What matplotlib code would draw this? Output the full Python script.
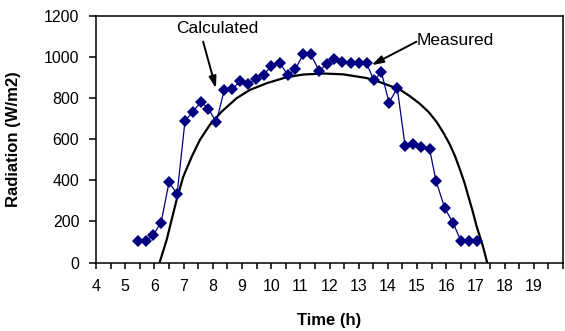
import numpy as np
import matplotlib
matplotlib.use('Agg')
from matplotlib import pyplot as plt

plt.rcParams['font.family'] = ['Liberation Sans', 'DejaVu Sans']

# measured radiation
meas_time = [5.43, 5.70, 5.96, 6.23, 6.50, 6.78, 7.05, 7.32, 7.59, 7.85,
             8.12, 8.39, 8.67, 8.94, 9.21, 9.47, 9.74, 10.01, 10.29, 10.57,
             10.83, 11.10, 11.35, 11.65, 11.91, 12.15, 12.43, 12.72, 13.00, 13.27,
             13.52, 13.78, 14.04, 14.32, 14.59, 14.87, 15.15, 15.43, 15.65, 15.95,
             16.23, 16.50, 16.77, 17.05]
meas_rad = [105, 105, 134, 194, 390, 334, 690, 734, 782, 749,
            683, 838, 843, 884, 868, 895, 913, 958, 973, 913,
            941, 1014, 1014, 933, 967, 990, 978, 973, 973, 970,
            886, 925, 778, 850, 567, 576, 561, 551, 397, 264,
            194, 106, 106, 106]

# calculated curve
calc_time = [6.18, 6.42, 6.59, 6.76, 6.99, 7.28, 7.56, 7.90, 8.30, 8.82,
             9.27, 9.85, 10.53, 11.10, 11.79, 12.47, 13.27, 13.73, 14.41, 14.75,
             15.10, 15.40, 15.67, 15.90, 16.12, 16.30, 16.47, 16.62, 16.75, 16.90,
             17.04, 17.26, 17.40]
calc_rad = [0, 110, 207, 304, 418, 515, 597, 670, 734, 800,
            840, 873, 902, 915, 920, 916, 898, 878, 842, 810,
            772, 732, 684, 632, 575, 518, 452, 390, 325, 252,
            176, 77, 0]

xticks = list(range(4, 20))
yticks = [0, 200, 400, 600, 800, 1000, 1200]

fig = plt.figure(figsize=(5.65, 3.31), dpi=100)
ax = fig.add_axes([0.1699, 0.2069, 0.8266, 0.7448])

ax.plot(calc_time, calc_rad, color='black', lw=1.6, zorder=2)
ax.plot(meas_time, meas_rad, color='#000080', lw=0.9, marker='D',
        markersize=6.3, markeredgewidth=0, zorder=3)

ax.set_xlim(4, 20)
ax.set_ylim(0, 1200)
ax.set_xticks(xticks)
ax.set_xticks(np.arange(4, 20.01, 0.5), minor=True)
ax.set_yticks(yticks)
ax.tick_params(axis='both', which='both', direction='out', width=1.1,
               labelsize=11.5)
ax.tick_params(axis='x', which='both', length=4, pad=8)
ax.tick_params(axis='y', length=5, pad=7)
for s in ax.spines.values():
    s.set_linewidth(1.1)

ax.set_xlabel('Time (h)', fontsize=12, fontweight='bold')
ax.set_ylabel('Radiation (W/m2)', fontsize=12, fontweight='bold')
ax.xaxis.set_label_coords(0.5, -0.205)
ax.yaxis.set_label_coords(-0.16, 0.5)

arrow = dict(arrowstyle='-|>,head_length=0.7,head_width=0.22', color='black',
             lw=1.4, shrinkA=0, shrinkB=0)
ax.text(6.76, 1137, 'Calculated', fontsize=12.5, ha='left', va='center')
ax.annotate('', xy=(8.11, 848), xytext=(7.67, 1075), arrowprops=arrow)
ax.text(14.98, 1080, 'Measured', fontsize=12.5, ha='left', va='center')
ax.annotate('', xy=(13.44, 961), xytext=(14.98, 1075), arrowprops=arrow)

fig.savefig('out.png', dpi=100)
